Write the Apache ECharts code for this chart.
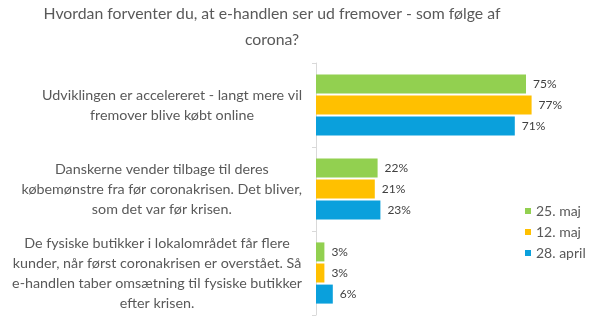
<!DOCTYPE html>
<html>
<head>
<meta charset="utf-8">
<script src="https://cdn.jsdelivr.net/npm/echarts@6/dist/echarts.min.js"></script>
<style>
  html, body { margin: 0; padding: 0; background: #fff; }
  #chart { width: 599px; height: 336px; }
</style>
</head>
<body>
<div id="chart"></div>
<script>
// Survey answers, each label broken into the lines it is shown on
const categories = [
  ['Udviklingen er accelereret - langt mere vil', 'fremover blive købt online'],
  ['Danskerne vender tilbage til deres', 'købemønstre fra før coronakrisen. Det bliver,', 'som det var før krisen.'],
  ['De fysiske butikker i lokalområdet får flere', 'kunder, når først coronakrisen er overstået. Så', 'e-handlen taber omsætning til fysiske butikker', 'efter krisen.']
];
const seriesNames = ['25. maj', '12. maj', '28. april'];
const may25 = [75, 22, 3];
const may12 = [77, 21, 3];
const april28 = [71, 23, 6];

const colors = ['#92D050', '#FFC000', '#0AA0DC'];
const textColor = '#595959';
const fontFamily = 'Lato, "Open Sans", sans-serif';

const chart = echarts.init(document.getElementById('chart'), null, { renderer: 'canvas' });

const makeSeries = (name, data, color) => ({
  name,
  type: 'bar',
  data,
  barWidth: 19,
  barGap: '11%',
  itemStyle: { color },
  label: {
    show: true,
    position: 'right',
    distance: 7,
    formatter: '{c}%',
    color: '#404040',
    fontSize: 12,
    fontFamily
  }
});

chart.setOption({
  animation: false,
  textStyle: { fontFamily },
  title: {
    text: 'Hvordan forventer du, at e-handlen ser ud fremover - som følge af\ncorona?',
    left: 272,
    top: 1,
    padding: 0,
    textAlign: 'center',
    textStyle: {
      color: textColor,
      fontSize: 15.8,
      fontWeight: 'normal',
      lineHeight: 26,
      fontFamily
    }
  },
  legend: {
    orient: 'vertical',
    left: 520,
    top: 199,
    itemWidth: 6,
    itemHeight: 6,
    itemGap: 7,
    icon: 'rect',
    data: seriesNames,
    textStyle: { color: textColor, fontSize: 14, fontFamily }
  },
  grid: {
    left: 316,
    top: 63,
    width: 280,
    height: 252,
    containLabel: false
  },
  xAxis: {
    type: 'value',
    min: 0,
    max: 100,
    show: false
  },
  yAxis: {
    type: 'category',
    inverse: true,
    data: categories.map((lines, i) => String(i)),
    axisLine: { show: true, lineStyle: { color: '#D9D9D9' } },
    axisTick: { show: true, length: 4, lineStyle: { color: '#D9D9D9' } },
    axisLabel: {
      margin: 14,
      align: 'right',
      lineHeight: 20,
      fontSize: 14.3,
      color: textColor,
      fontFamily,
      formatter: (v) => categories[+v].map(l => '{c|' + l + '}').join('\n'),
      rich: {
        c: { align: 'center', fontSize: 14.3, lineHeight: 20, color: textColor, fontFamily }
      }
    }
  },
  series: [
    makeSeries(seriesNames[0], may25, colors[0]),
    makeSeries(seriesNames[1], may12, colors[1]),
    makeSeries(seriesNames[2], april28, colors[2])
  ]
});
</script>
</body>
</html>
